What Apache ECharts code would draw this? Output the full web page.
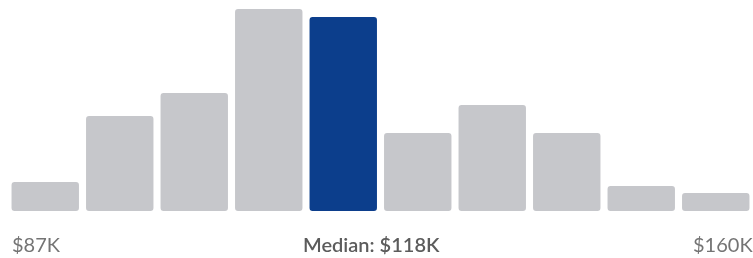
<!DOCTYPE html>
<html><head><meta charset="utf-8">
<script src="https://cdn.jsdelivr.net/npm/echarts@6/dist/echarts.min.js"></script>
<style>html,body{margin:0;padding:0;background:#fff}#c{width:753px;height:258px}</style>
</head><body><div id="c"></div>
<script>
const categories = ['b1','b2','b3','b4','b5','b6','b7','b8','b9','b10'];
const counts = [29, 95, 118, 202, 194, 78, 106, 78, 25, 18];
const medianIndex = 4;
const minLabel = '$87K';
const medianLabel = 'Median: $118K';
const maxLabel = '$160K';

const chart = echarts.init(document.getElementById('c'));
chart.setOption({
  animation: false,
  grid: { left: 8, top: 9, width: 748, height: 202 },
  xAxis: { type: 'category', data: categories, show: false },
  yAxis: { type: 'value', min: 0, max: 202, show: false },
  series: [{
    type: 'bar',
    barCategoryGap: '9.5%',
    data: counts.map((v, i) => ({
      value: v,
      itemStyle: { color: i === medianIndex ? '#0c3e8c' : '#c6c7cb', borderRadius: 3 }
    }))
  }],
  graphic: [
    { type: 'text', left: 12, top: 236, style: { text: minLabel, font: '20px Lato', fill: '#747474' } },
    { type: 'text', left: 303, top: 236, style: { text: medianLabel, font: '600 20px Lato', fill: '#5c5c5c' } },
    { type: 'text', left: 693, top: 236, style: { text: maxLabel, font: '20px Lato', fill: '#747474' } }
  ]
});
</script></body></html>
